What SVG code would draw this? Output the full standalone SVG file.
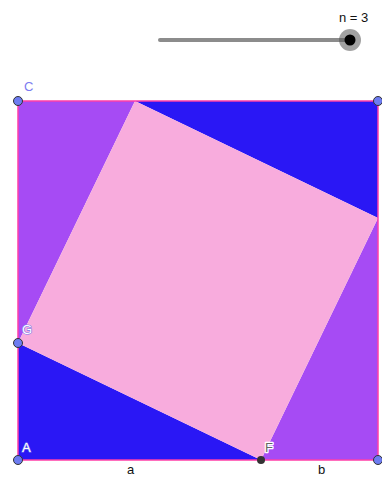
<svg xmlns="http://www.w3.org/2000/svg" width="382" height="477" viewBox="0 0 382 477">
<style>
.lbl{font-family:"Liberation Sans",Arial,sans-serif;font-size:13px}
.pt{fill:#6d7cf2;stroke:#333;stroke-width:1}
.halo{paint-order:stroke;stroke:#fff;stroke-width:2.5;stroke-linejoin:round}
</style>
<rect width="382" height="477" fill="#fff"/>
<g id="slider">
<line x1="160" y1="40" x2="350" y2="40" stroke="#8c8c8c" stroke-width="4" stroke-linecap="round"/>
<circle cx="350" cy="40" r="11" fill="#555" fill-opacity="0.55"/>
<circle cx="350" cy="40" r="5.5" fill="#000"/>
<text class="lbl" x="339" y="22" fill="#111">n = 3</text>
</g>
<g id="triangles">
<polygon id="tri-tl" points="18,101 135,101 18,343" fill="#a64bf4"/>
<polygon id="tri-tr" points="135,101 378,101 378,218" fill="#2a17f5"/>
<polygon id="tri-br" points="378,218 378,460 261,460" fill="#a64bf4"/>
<polygon id="tri-bl" points="18,343 261,460 18,460" fill="#2a17f5"/>
</g>
<g id="inner-square">
<polygon points="135,101 378,218 261,460 18,343" fill="#f8acdd"/>
</g>
<g id="outer-square">
<rect x="18" y="101" width="360" height="359" fill="none" stroke="#ff3fa8" stroke-width="1.5"/>
</g>
<g id="points">
<g id="C"><circle class="pt" cx="18" cy="101" r="4.5"/><text class="lbl" x="24" y="91" fill="#7b7bf0">C</text></g>
<g id="D"><circle class="pt" cx="378" cy="101" r="4.5"/></g>
<g id="E"><circle class="pt" cx="378" cy="460" r="4.5"/></g>
<g id="A"><circle class="pt" cx="18" cy="460" r="4.5"/><text class="lbl" x="22" y="452" fill="#fff" stroke="#7b7bf0" stroke-width="1.2" paint-order="stroke">A</text></g>
<g id="G"><circle class="pt" cx="18" cy="343" r="4.5"/><text class="lbl" x="22" y="334" fill="#fff" stroke="#7b7bf0" stroke-width="1.2" paint-order="stroke">G</text></g>
<g id="F"><circle cx="261" cy="460" r="4" fill="#333"/><text class="lbl halo" x="265" y="452" fill="#666">F</text></g>
</g>
<g id="labels">
<text class="lbl" x="127" y="474" fill="#111">a</text>
<text class="lbl" x="318" y="474" fill="#111">b</text>
</g>
</svg>
